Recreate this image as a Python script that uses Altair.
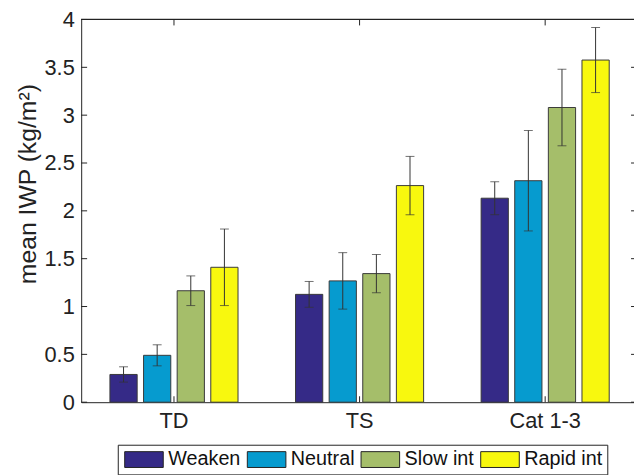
import altair as alt
import pandas as pd

categories = ["TD", "TS", "Cat 1-3"]
series = ["Weaken", "Neutral", "Slow int", "Rapid int"]
colors = ["#352A87", "#069BCF", "#A5BE6A", "#F8F80E"]

weaken = [0.29, 1.127, 2.132]
weaken_err = [0.08, 0.135, 0.172]
neutral = [0.49, 1.268, 2.315]
neutral_err = [0.11, 0.295, 0.525]
slow = [1.165, 1.344, 3.08]
slow_err = [0.155, 0.20, 0.40]
rapid = [1.41, 2.264, 3.576]
rapid_err = [0.40, 0.305, 0.34]

y_ticks = [0, 0.5, 1, 1.5, 2, 2.5, 3, 3.5, 4]

rows = []
for s, vals, errs in zip(series, [weaken, neutral, slow, rapid],
                         [weaken_err, neutral_err, slow_err, rapid_err]):
    for c, v, e in zip(categories, vals, errs):
        rows.append({"cat": c, "series": s, "value": v, "lo": v - e, "hi": v + e})
df = pd.DataFrame(rows)
ticks_df = pd.DataFrame({"t": y_ticks})
cats_df = pd.DataFrame({"cat": categories})

FONT = "Liberation Sans"
AX = "#222222"
W_FULL = 563
H = 387

xscale = alt.Scale(domain=categories, range=[0, W_FULL], paddingInner=0, paddingOuter=0)
xaxis = alt.Axis(title=None, labelAngle=0, labelFontSize=22, labelFont=FONT,
                 labelColor=AX, labelPadding=9, ticks=False, tickSize=0,
                 domainColor=AX, domainWidth=1, grid=False)
xenc = alt.X("cat:N", sort=categories, scale=xscale, axis=xaxis)
xoff = alt.XOffset("series:N", sort=series,
                   scale=alt.Scale(domain=series, paddingInner=0.19, paddingOuter=0.855))
yscale = alt.Scale(domain=[0, 4], nice=False, zero=True)
yaxis = alt.Axis(title="mean IWP (kg/m²)", values=y_ticks, labelExpr="datum.value",
                 labelFontSize=22, labelFont=FONT, labelColor=AX, labelPadding=7,
                 ticks=False, tickSize=0, grid=False, domainColor=AX, domainWidth=1,
                 titleFontSize=25, titleFont=FONT, titleFontWeight="normal",
                 titleColor=AX, titleAngle=270, titleX=-46, titleY=166,
                 titleBaseline="alphabetic", titleAlign="center")


def Y(field):
    return alt.Y(field, scale=yscale, axis=yaxis)


bars = alt.Chart(df).mark_bar(stroke="#3a3a3a", strokeWidth=1).encode(
    x=xenc,
    xOffset=xoff,
    y=Y("value:Q"),
    color=alt.Color("series:N", sort=series,
                    scale=alt.Scale(domain=series, range=colors),
                    legend=alt.Legend(title=None, orient="none", legendX=37, legendY=430,
                                      direction="horizontal",
                                      symbolType="M-1,-1H3.875V1H-1Z", symbolSize=256,
                                      symbolStrokeColor="#222222", symbolStrokeWidth=1,
                                      symbolOpacity=1,
                                      labelFontSize=20, labelFont=FONT, labelColor="#111111",
                                      labelOffset=26, columnPadding=4, padding=5,
                                      strokeColor="#222222", fillColor="white")),
)

err = alt.Chart(df).mark_rule(color="#333333", strokeWidth=1).encode(
    x=xenc, xOffset=xoff, y=Y("lo:Q"), y2="hi:Q")
cap_lo = alt.Chart(df).mark_tick(color="#333333", size=9, thickness=1).encode(
    x=xenc, xOffset=xoff, y=Y("lo:Q"))
cap_hi = alt.Chart(df).mark_tick(color="#333333", size=9, thickness=1).encode(
    x=xenc, xOffset=xoff, y=Y("hi:Q"))

top_border = alt.Chart(ticks_df).mark_rule(color=AX, strokeWidth=1).encode(
    x=alt.value(0), x2=alt.value(W_FULL), y=alt.value(0))
left_ticks = alt.Chart(ticks_df).mark_rule(color=AX, strokeWidth=1).encode(
    x=alt.value(0), x2=alt.value(6), y=Y("t:Q"))
right_ticks = alt.Chart(ticks_df).mark_rule(color=AX, strokeWidth=1).encode(
    x=alt.value(W_FULL - 7), x2=alt.value(W_FULL), y=Y("t:Q"))
top_ticks = alt.Chart(cats_df).mark_rule(color=AX, strokeWidth=1).encode(
    x=xenc, y=alt.value(0), y2=alt.value(6))
bot_ticks = alt.Chart(cats_df).mark_rule(color=AX, strokeWidth=1).encode(
    x=xenc, y=alt.value(H - 6), y2=alt.value(H))

chart = alt.layer(
    bars, err, cap_lo, cap_hi, top_border, left_ticks, right_ticks, top_ticks, bot_ticks
).properties(
    width=559, height=H,
    autosize=alt.AutoSizeParams(type="none"),
    padding={"left": 74, "top": 9, "right": 0, "bottom": 71},
).configure_view(strokeWidth=0)

chart.save("out.html", embed_options={"renderer": "svg", "actions": False})
